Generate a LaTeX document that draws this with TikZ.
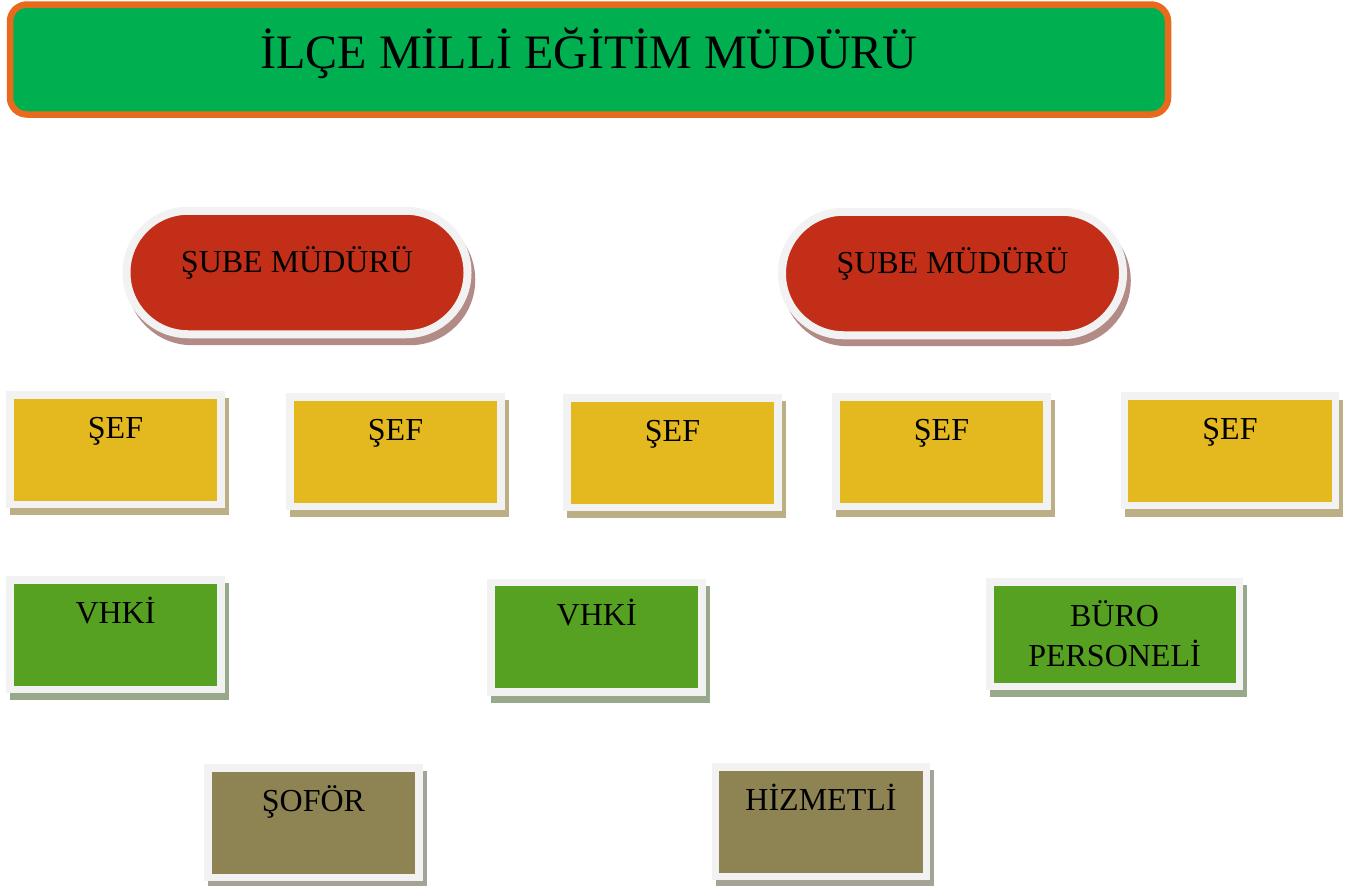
\documentclass[tikz,border=0pt]{standalone}
\usepackage{fontspec}
\setmainfont{Liberation Serif}
\usetikzlibrary{positioning}
\definecolor{baslikyesil}{HTML}{00AF50}
\definecolor{turuncu}{HTML}{E86A1C}
\definecolor{cerceve}{HTML}{F2F2F2}
\definecolor{subekirmizi}{HTML}{C32E19}
\definecolor{subegolge}{HTML}{B38B86}
\definecolor{sefsari}{HTML}{E4B81F}
\definecolor{sefgolge}{HTML}{BCAF86}
\definecolor{memuryesil}{HTML}{56A022}
\definecolor{memurgolge}{HTML}{97A98A}
\definecolor{hizmetzeytin}{HTML}{8E8352}
\definecolor{hizmetgolge}{HTML}{A5A395}
\tikzset{golge/.style={preaction={fill=#1,draw=#1,line width=3.75pt,
    transform canvas={xshift=2pt,yshift=-3.6pt}}}}
\tikzset{kutu/.style={rectangle,draw=cerceve,line width=3.75pt,inner sep=0pt,
    minimum width=105.5pt,minimum height=54.75pt,font=\fontsize{16}{20}\selectfont}}
\tikzset{ustyazi/.style={text height=10.6pt,text depth=22pt}}
\tikzset{sefkutu/.style={kutu,ustyazi,fill=sefsari,golge=sefgolge}}
\tikzset{memurkutu/.style={kutu,fill=memuryesil,golge=memurgolge}}
\tikzset{hizmetkutu/.style={kutu,ustyazi,fill=hizmetzeytin,golge=hizmetgolge}}
\tikzset{subekutu/.style={rectangle,draw=cerceve,line width=4pt,inner sep=0pt,
    fill=subekirmizi,golge=subegolge,rounded corners=30.8pt,
    minimum width=170.5pt,minimum height=61.75pt,
    font=\fontsize{16}{20}\selectfont,text height=10.6pt,text depth=11pt}}

\begin{document}
\begin{tikzpicture}[x=0.5pt,y=-0.5pt]
\useasboundingbox (0,0) rectangle (1352,885);

\node[rectangle,draw=turuncu,line width=3.25pt,fill=baslikyesil,rounded corners=8.5pt,
  minimum width=579pt,minimum height=55pt,inner sep=0pt,
  font=\fontsize{24}{28}\selectfont,text height=15.7pt,text depth=7pt]
  (mudur) at (589,59.5) {İLÇE MİLLİ EĞİTİM MÜDÜRÜ};

\node[subekutu] (sube1) at (297,272.5) {ŞUBE MÜDÜRÜ};
\node[subekutu] (sube2) at (952.5,273.5) {ŞUBE MÜDÜRÜ};

\node[sefkutu] (sef1) at (115.5,449.5) {ŞEF};
\node[sefkutu] (sef2) at (395.5,451.5) {ŞEF};
\node[sefkutu] (sef3) at (672.5,452.7) {ŞEF};
\node[sefkutu] (sef4) at (941.5,451.5) {ŞEF};
\node[sefkutu] (sef5) at (1230,450.8) {ŞEF};

\node[memurkutu,ustyazi] (vhki1) at (115.5,634.5) {VHKİ};
\node[memurkutu,ustyazi] (vhki2) at (596.7,637) {VHKİ};
\node[memurkutu,align=center,minimum width=124.75pt,minimum height=52.25pt]
  (buro) at (1114.5,634) {BÜRO\\PERSONELİ};

\node[hizmetkutu] (sofor) at (313.5,822.5) {ŞOFÖR};
\node[hizmetkutu] (hizmetli) at (821,821.7) {HİZMETLİ};

\end{tikzpicture}
\end{document}
